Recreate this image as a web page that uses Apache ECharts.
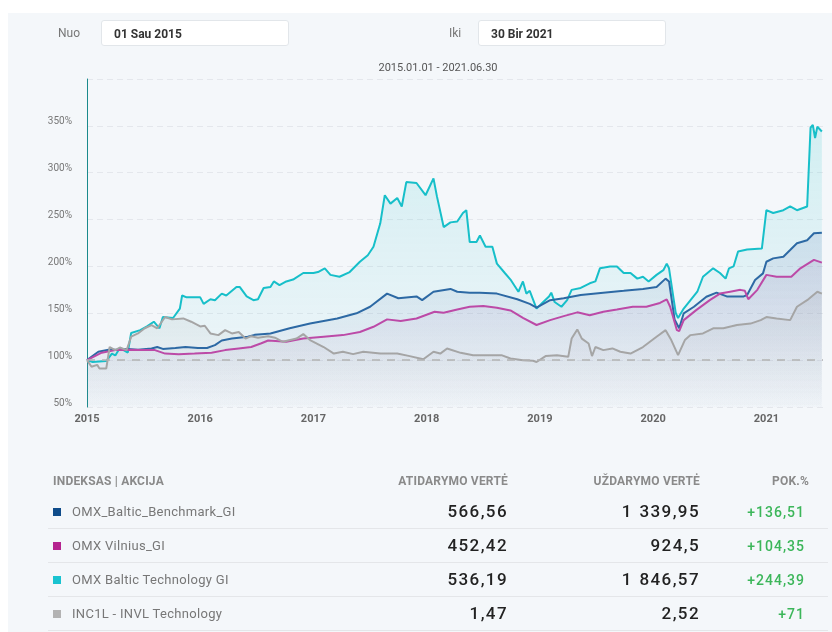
<!DOCTYPE html>
<html>
<head>
<meta charset="utf-8">
<script src="https://cdn.jsdelivr.net/npm/echarts@6/dist/echarts.min.js"></script>
<style>
  body { margin: 0; background: #fff; font-family: Roboto, sans-serif; }
  #panel { position: absolute; left: 8px; top: 13px; right: 0; bottom: 0; background: #f4f7fa; }
  #chart { position: absolute; left: 0; top: 0; width: 832px; height: 632px; }
  .lbl { position: absolute; top: 26px; font-size: 12px; color: #777; }
  .inp { position: absolute; top: 20px; height: 26px; width: 188px; background: #fff; border: 1px solid #e2e6ea; border-radius: 3px;
         font-size: 12px; font-weight: bold; color: #333; line-height: 26px; padding-left: 12px; box-sizing: border-box; }
  #table { position: absolute; left: 48px; top: 466px; width: 780px; }
  .row { position: relative; height: 34px; border-bottom: 1px solid #e4e6e9; box-sizing: border-box; }
  .head { height: 29px; border-bottom: none; }
  .row span { position: absolute; white-space: nowrap; }
  .head span { top: 8px; font-size: 12px; font-weight: bold; color: #8a8a8a; letter-spacing: .2px; }
  .mk { left: 5px; top: 13px; width: 8px; height: 8px; }
  .nm { left: 24px; top: 9px; font-size: 13px; color: #777; letter-spacing: .3px; }
  .v1, .v2 { top: 6px; font-size: 17px; font-weight: 500; color: #222; letter-spacing: 1.4px; word-spacing: 1px; }
  .v1 { right: 320px; } .v2 { right: 128px; }
  .pc { right: 23px; top: 9px; font-size: 14px; font-weight: 500; color: #3cb65a; letter-spacing: 1px; }
</style>
</head>
<body>
<div id="panel"></div>
<div id="chart"></div>
<span class="lbl" style="left:58px">Nuo</span>
<div class="inp" style="left:101px">01 Sau 2015</div>
<span class="lbl" style="left:449px">Iki</span>
<div class="inp" style="left:478px">30 Bir 2021</div>
<div id="table"></div>
<script>
// chart data: [decimal year, % of start value]
var benchmarkData = [
  [2015.00,100],[2015.01,102],[2015.10,109],[2015.19,111],[2015.28,111],[2015.36,112],[2015.45,111],[2015.57,112.5],[2015.62,114],[2015.67,112],[2015.78,113],[2015.87,114],[2015.98,113],
  [2016.06,113],[2016.13,116],[2016.19,121],[2016.28,123],[2016.34,124],[2016.42,125],[2016.48,127],[2016.57,128],[2016.62,128.5],[2016.79,134],[2016.97,139],
  [2017.21,144.5],[2017.38,150],[2017.50,157],[2017.65,171],[2017.75,166],[2017.91,168],[2017.96,164],
  [2018.06,173],[2018.21,176],[2018.27,173],[2018.38,172],[2018.47,172],[2018.62,171],[2018.80,165],[2018.91,160],[2018.97,156],
  [2019.09,164],[2019.21,166],[2019.36,169.5],[2019.56,172],[2019.74,174],[2019.91,176],
  [2020.03,178],[2020.11,187],[2020.14,184],[2020.19,143],[2020.23,134],[2020.27,150],[2020.36,157],[2020.47,167.6],[2020.56,172],[2020.65,168],[2020.80,168],[2020.83,169.5],[2020.90,185.5],[2020.97,192.6],
  [2021.00,205],[2021.06,208.6],[2021.15,210.4],[2021.21,217.5],[2021.27,224.7],[2021.36,228],[2021.42,235.4],[2021.49,236]
];
var vilniusData = [
  [2015.00,100],[2015.01,102],[2015.13,108],[2015.25,110.7],[2015.36,111],[2015.48,110.7],[2015.60,110.7],[2015.69,107],[2015.81,106.4],[2015.95,107],
  [2016.10,108],[2016.22,110.7],[2016.34,112.5],[2016.45,114],[2016.54,118],[2016.60,121],[2016.76,119.6],[2016.91,123],
  [2017.09,125],[2017.26,126.7],[2017.41,130],[2017.53,135.6],[2017.65,143.5],[2017.77,141.7],[2017.91,144.5],
  [2018.07,151.6],[2018.15,150.5],[2018.27,154],[2018.38,157],[2018.50,157.7],[2018.62,156],[2018.74,153],[2018.85,145],[2018.97,137.5],
  [2019.09,142.7],[2019.21,147],[2019.33,151],[2019.44,148],[2019.56,151.6],[2019.68,154],[2019.82,157],[2019.94,157],
  [2020.06,161],[2020.12,164.8],[2020.15,157],[2020.21,132],[2020.23,131],[2020.27,142.7],[2020.38,153.4],[2020.50,164],[2020.59,171],[2020.68,173],[2020.77,175],[2020.81,174],[2020.84,165],[2020.92,175],
  [2021.00,191],[2021.09,189],[2021.22,189],[2021.30,198],[2021.42,207],[2021.49,204]
];
var techData = [
  [2015.00,100],[2015.05,98],[2015.17,99],[2015.22,107],[2015.25,105],[2015.29,113],[2015.36,108],[2015.39,129],[2015.47,132],[2015.53,136],[2015.59,141],[2015.64,134],[2015.67,146],[2015.76,145],[2015.82,155],[2015.84,169],[2015.88,167],
  [2016.00,167],[2016.03,160],[2016.09,165],[2016.13,164],[2016.19,171],[2016.23,169],[2016.32,178],[2016.35,178],[2016.41,168],[2016.47,164],[2016.51,165],[2016.56,177],[2016.62,178],[2016.65,184],[2016.70,180],[2016.76,184],[2016.82,186],[2016.91,193],
  [2017.00,193],[2017.04,194],[2017.10,198],[2017.15,191],[2017.23,189],[2017.32,194],[2017.41,205],[2017.48,212],[2017.53,221],[2017.59,246],[2017.63,276],[2017.68,267],[2017.74,273],[2017.78,264],[2017.82,290],[2017.91,289],[2017.99,276],
  [2018.06,294],[2018.09,275],[2018.15,242],[2018.21,247],[2018.27,248],[2018.32,257],[2018.35,260],[2018.38,226],[2018.44,226],[2018.47,233],[2018.52,221],[2018.58,221],[2018.62,203],[2018.69,193],[2018.74,186],[2018.81,173],[2018.85,184],[2018.88,171],[2018.91,174],[2018.97,155],
  [2019.02,161],[2019.08,168],[2019.10,172],[2019.13,162],[2019.19,157],[2019.24,164],[2019.28,175],[2019.36,177],[2019.44,182],[2019.49,184],[2019.53,198],[2019.62,200],[2019.68,200],[2019.74,193],[2019.80,193],[2019.86,187],[2019.91,189],[2019.96,184],
  [2020.03,191],[2020.09,196],[2020.12,203],[2020.14,198],[2020.20,150],[2020.22,145],[2020.27,155],[2020.33,164],[2020.39,173],[2020.44,189],[2020.53,198],[2020.59,193],[2020.64,187],[2020.67,198],[2020.71,200],[2020.75,216],[2020.83,218],[2020.96,219],
  [2021.00,260],[2021.06,257],[2021.15,260],[2021.21,264],[2021.27,260],[2021.36,264],[2021.37,262],[2021.39,348],[2021.41,351],[2021.43,337],[2021.45,349],[2021.49,344]
];
var invlData = [
  [2015.00,100],[2015.04,93],[2015.09,95],[2015.11,91],[2015.17,91],[2015.20,114],[2015.25,110.7],[2015.29,113.5],[2015.35,110.7],[2015.39,125],[2015.45,128.5],[2015.51,134],[2015.57,137.4],[2015.62,134],[2015.69,146],[2015.75,143.5],[2015.85,144.5],[2015.92,141],
  [2016.00,136],[2016.04,136.7],[2016.09,128.5],[2016.16,126.7],[2016.22,132],[2016.28,128.5],[2016.34,130],[2016.40,123],[2016.45,125.6],[2016.51,124],[2016.60,125.6],[2016.66,124],[2016.73,119.6],[2016.85,123],[2016.91,127.8],[2016.97,121.4],
  [2017.09,114],[2017.18,107],[2017.26,109],[2017.35,106.4],[2017.44,109],[2017.59,107],[2017.74,107],[2017.85,104.3],[2017.97,101],
  [2018.06,109],[2018.12,107],[2018.18,112.5],[2018.30,107.8],[2018.41,105.3],[2018.56,105.3],[2018.66,105.3],[2018.74,101.8],[2018.85,100],[2018.94,99.3],[2018.97,98],
  [2019.05,104.3],[2019.15,105.3],[2019.25,103.5],[2019.28,123],[2019.33,132.8],[2019.37,123],[2019.43,117.8],[2019.46,104.3],[2019.49,114],[2019.56,110.7],[2019.64,112.5],[2019.71,109],[2019.80,107],[2019.91,114],
  [2020.03,125],[2020.11,132],[2020.16,121.4],[2020.22,105.3],[2020.28,121.4],[2020.33,126.7],[2020.44,128.5],[2020.53,134],[2020.62,134],[2020.74,137.4],[2020.86,139],[2020.95,142.7],
  [2021.00,146],[2021.09,144.5],[2021.21,142.7],[2021.27,157],[2021.36,164],[2021.45,173],[2021.49,171]
];

// table
var names = ['OMX_Baltic_Benchmark_GI', 'OMX Vilnius_GI', 'OMX Baltic Technology GI', 'INC1L - INVL Technology'];
var openValues = ['566,56', '452,42', '536,19', '1,47'];
var closeValues = ['1 339,95', '924,5', '1 846,57', '2,52'];
var changes = ['+136,51', '+104,35', '+244,39', '+71'];
var markerColors = ['#0f4c8a', '#b5248f', '#19c3d0', '#b3b3b3'];
var lineColors = ['#2d69a4', '#bc4aa7', '#17bfc9', '#a5a5a5'];

var html = '<div class="row head"><span style="left:5px">INDEKSAS | AKCIJA</span>' +
  '<span style="right:320px">ATIDARYMO VERTĖ</span><span style="right:128px">UŽDARYMO VERTĖ</span>' +
  '<span style="right:19px">POK.%</span></div>';
for (var i = 0; i < names.length; i++) {
  html += '<div class="row"><span class="mk" style="background:' + markerColors[i] + '"></span>' +
    '<span class="nm">' + names[i] + '</span><span class="v1">' + openValues[i] + '</span>' +
    '<span class="v2">' + closeValues[i] + '</span><span class="pc">' + changes[i] + '</span></div>';
}
document.getElementById('table').innerHTML = html;

function area(r, g, b, a) {
  return {
    origin: 'start',
    color: new echarts.graphic.LinearGradient(0, 0, 0, 1, [
      { offset: 0, color: 'rgba(' + r + ',' + g + ',' + b + ',' + a + ')' },
      { offset: 1, color: 'rgba(' + r + ',' + g + ',' + b + ',0.01)' }
    ])
  };
}

function line(name, data, color, areaStyle) {
  return {
    name: name, type: 'line', data: data, showSymbol: false, symbol: 'none',
    lineStyle: { color: color, width: 2 }, itemStyle: { color: color },
    areaStyle: areaStyle, animation: false
  };
}

var chart = echarts.init(document.getElementById('chart'));
var series = [
  line(names[2], techData, lineColors[2], area(23, 191, 201, 0.22)),
  line(names[0], benchmarkData, lineColors[0], area(60, 90, 160, 0.18)),
  line(names[1], vilniusData, lineColors[1], area(150, 110, 170, 0.17)),
  line(names[3], invlData, lineColors[3], area(140, 140, 150, 0.18))
];
series[3].markLine = {
  silent: true, symbol: ['none', 'none'], label: { show: false },
  lineStyle: { color: '#b3b3b3', type: [8, 7], width: 1.5 },
  data: [{ yAxis: 100 }]
};

chart.setOption({
  animation: false,
  title: {
    text: '2015.01.01 - 2021.06.30', left: 433, top: 58, textAlign: 'center',
    textStyle: { fontSize: 11, fontWeight: 'normal', color: '#555', fontFamily: 'Roboto' }
  },
  grid: { left: 87, right: 9, top: 79, bottom: 225 },
  xAxis: {
    type: 'value', min: 2015, max: 2021.5, interval: 1,
    axisLine: { show: false }, axisTick: { show: false }, splitLine: { show: false },
    axisLabel: { showMaxLabel: false, margin: 7, fontSize: 11, fontWeight: 'bold', color: '#666', fontFamily: 'Roboto',
      formatter: function (v) { return String(Math.round(v)); } }
  },
  yAxis: {
    type: 'value', min: 50, max: 400, interval: 50,
    axisLine: { show: true, lineStyle: { color: '#1a8a8c', width: 1 } },
    axisTick: { show: false },
    splitLine: { show: true, lineStyle: { color: '#e4e7ec', type: [6, 4], width: 1 } },
    axisLabel: { margin: 15, fontSize: 10, color: '#777', fontFamily: 'Roboto', verticalAlign: 'bottom', lineHeight: 8,
      formatter: function (v) { return v === 400 ? '' : v + '%'; } }
  },
  series: series
});
</script>
</body>
</html>
